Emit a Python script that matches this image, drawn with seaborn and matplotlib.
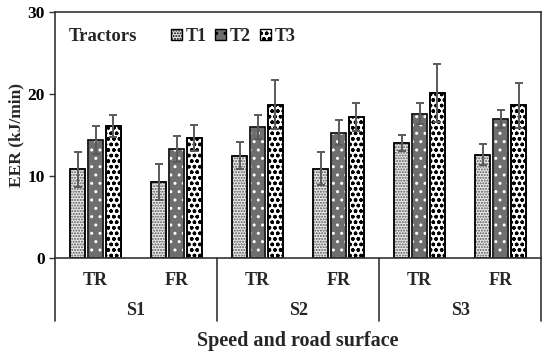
import pandas as pd
import numpy as np
import seaborn as sns
import matplotlib.pyplot as plt
from matplotlib.patches import Patch, Rectangle

# values
speeds = ["S1", "S2", "S3"]
roads = ["TR", "FR"]
tractors = ["T1", "T2", "T3"]
t1 = [10.8, 9.3, 12.5, 10.9, 14.0, 12.6]
t2 = [14.4, 13.3, 16.0, 15.3, 17.6, 17.0]
t3 = [16.1, 14.6, 18.7, 17.2, 20.1, 18.6]
e1 = [2.1, 2.2, 1.7, 2.0, 1.0, 1.3]
e2 = [1.7, 1.6, 1.5, 1.5, 1.3, 1.1]
e3 = [1.4, 1.6, 3.0, 1.7, 3.5, 2.7]

cats = [s + "-" + r for s in speeds for r in roads]
df = pd.DataFrame({
    "cat": cats * 3,
    "tractor": np.repeat(tractors, len(cats)),
    "EER": t1 + t2 + t3,
    "err": e1 + e2 + e3,
})

sns.set_style("ticks")
plt.rcParams["font.family"] = ["Liberation Serif", "DejaVu Serif"]
plt.rcParams["font.weight"] = "bold"
plt.rcParams["hatch.linewidth"] = 1.0

fig = plt.figure(figsize=(5.5, 3.53), dpi=100)
ax = fig.add_axes([0.1, 0.269, 0.884, 0.697])

faces = {"T1": "#ebebeb", "T2": "#6e6e6e", "T3": "#ffffff"}
hatches = {"T1": "......", "T2": "..", "T3": "ooo"}
hatch_col = {"T1": "#555555", "T2": "white", "T3": "black"}

sns.barplot(data=df, x="cat", y="EER", hue="tractor", order=cats,
            hue_order=tractors, width=0.66, palette=faces, errorbar=None,
            edgecolor="black", linewidth=1.2, legend=False, ax=ax)

# shrink bars a little so there are gaps, add hatches and error bars
for cont, tr in zip(ax.containers, tractors):
    sub = df[df["tractor"] == tr].set_index("cat").loc[cats]
    xs = []
    for p in cont.patches:
        cx = p.get_x() + p.get_width() / 2
        p.set_width(0.185)
        p.set_x(cx - 0.0925)
        p.set_hatch(hatches[tr])
        p.set_edgecolor(hatch_col[tr])
        # black outline over the hatched bar
        ax.add_patch(Rectangle((p.get_x(), 0), p.get_width(), p.get_height(),
                               fill=False, edgecolor="black", lw=1.2, zorder=p.get_zorder() + 0.1))
        xs.append(cx)
    ax.errorbar(xs, sub["EER"], yerr=sub["err"], fmt="none", ecolor="#5a5a5a",
                elinewidth=1.4, capsize=3, capthick=1.4, zorder=5)

ax.set_ylim(0, 30)
ax.set_xlim(-0.5, 5.5)
ax.set_yticks([0, 10, 20, 30])
ax.tick_params(axis="y", labelsize=12.5, length=4, width=1, colors="#333333", labelcolor="black")
ax.set_xticks(range(len(cats)))
ax.set_xticklabels(roads * 3)
ax.tick_params(axis="x", length=0, labelsize=13, pad=10)
for sp in ax.spines.values():
    sp.set_visible(True)
    sp.set_color("#333333")
    sp.set_linewidth(1.2)

ax.set_ylabel("EER (kJ/min)", fontsize=12.5, fontweight="bold", labelpad=2)
ax.set_xlabel("Speed and road surface", fontsize=14.5, fontweight="bold", labelpad=30)

# second level of x labels and separators
trans = ax.get_xaxis_transform()
for i, s in enumerate(speeds):
    ax.text(2 * i + 0.5, -0.215, s, transform=trans, ha="center", va="center",
            fontsize=13, fontweight="bold")
for xv in [-0.5, 1.5, 3.5, 5.5]:
    ax.plot([xv, xv], [0, -0.255], transform=trans, color="#333333", lw=1.2, clip_on=False)

# legend
ax.text(0.028, 0.9, "Tractors", transform=ax.transAxes, fontsize=13.5,
        fontweight="bold", va="center")
handles = [Patch(facecolor=faces[t], edgecolor="black", hatch=hatches[t], label=t)
           for t in tractors]
ax.legend(handles=handles, ncol=3, loc="center left", bbox_to_anchor=(0.22, 0.9),
          frameon=False, handlelength=0.6, handleheight=0.6, handletextpad=0.2,
          columnspacing=0.5, borderpad=0, prop={"size": 13, "weight": "bold"})

fig.savefig("out.png", dpi=100)
